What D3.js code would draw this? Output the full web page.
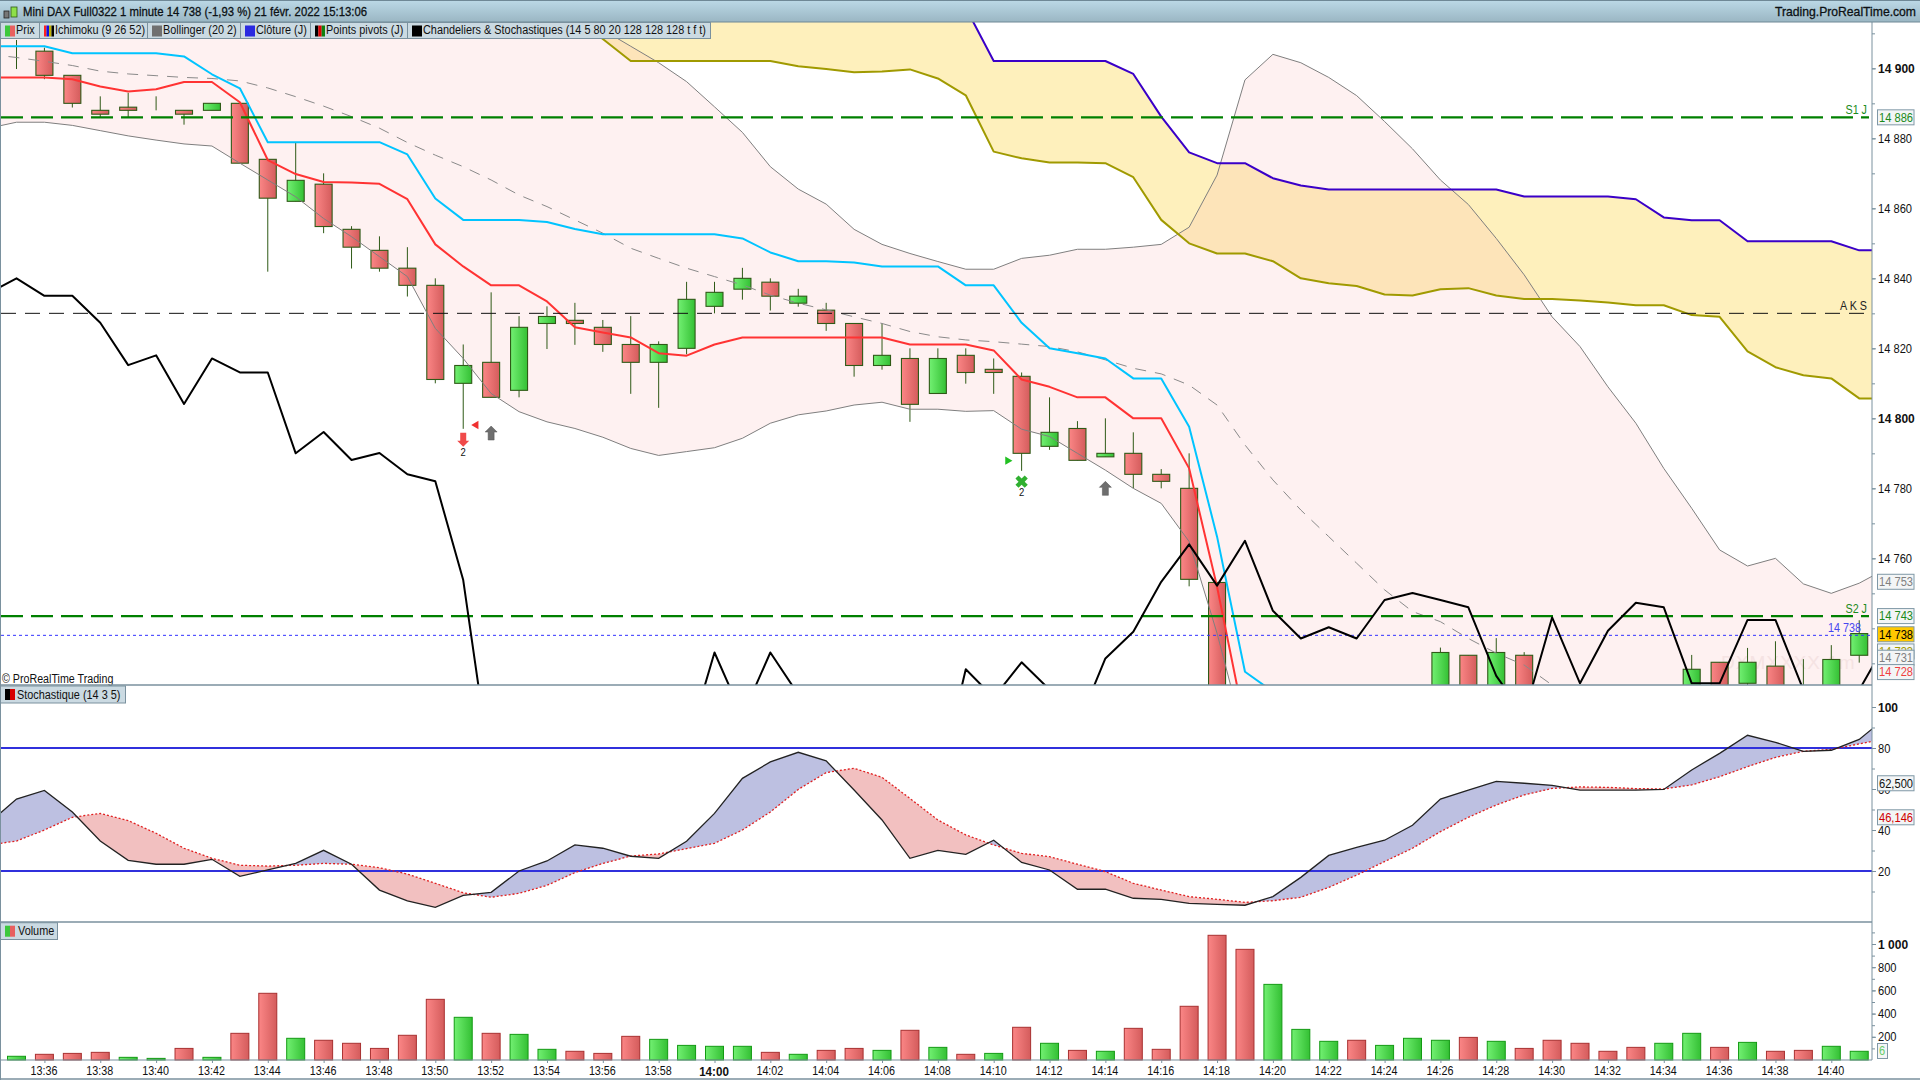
<!DOCTYPE html>
<html>
<head>
<meta charset="utf-8">
<script src="https://cdnjs.cloudflare.com/ajax/libs/d3/7.8.5/d3.min.js"></script>
<style>
  html, body { margin: 0; padding: 0; background: #fff; overflow: hidden; }
  text { font-family: "Liberation Sans", Arial, sans-serif; }
</style>
</head>
<body>
<svg id="chart" width="1920" height="1080"></svg>
<script>
// one candle per minute, 13:35 to 14:41
const times = d3.range(67).map(i => {
  const m = 13 * 60 + 35 + i;
  return d3.format('02')(Math.floor(m / 60)) + ':' + d3.format('02')(m % 60);
});

const opens = [14902.9,14904.9,14898,14888,14888.9,14888,14888,14888,14890,14874,14862,14866.9,14854,14848,14842.9,14838,14810,14816,14808,14827.1,14828,14826,14821.1,14816,14820,14832,
  14836.9,14838.9,14832.9,14830.9,14827.1,14815.1,14817.1,14807.1,14818,14814,14812,14792,14797.1,14789,14790,14784,14780,14753.1,
  14712,14692,14706,14712,14716,14712,14716,14719,14732.3,14720,14732.3,14720,14716,14713,14711,14709,14722.5,14730.3,14724.3,14729.2,14723,14722,14732.3];
const closes = [14902.9,14898,14890,14886.9,14888,14888,14886.9,14890,14872.9,14862.9,14868,14854.8,14848.9,14842.9,14838,14811.1,14815.1,14806,14826,14829.1,14827.1,14821.1,14816,14821.1,14834,14836,
  14840,14834.9,14834.9,14827.1,14815.1,14818,14804,14817.1,14813.1,14813.1,14790,14796,14788,14790,14784,14782,14754,14712,
  14692,14706,14712,14716,14712,14716,14719,14733.1,14720,14733.1,14720,14716,14713,14711,14709,14718,14728.3,14722,14730.3,14722,14721,14731.1,14738.5];
const highs = [14908.1,14905.9,14898,14892,14893,14892,14888,14890,14890,14874,14878.8,14870,14854.9,14852,14848.9,14840,14821.1,14836,14829.2,14832,14833,14828.1,14829.2,14822,14839,14839,
  14843,14840,14837,14833,14827.1,14827.1,14820,14820,14820,14817.1,14813.1,14806,14799.2,14800,14796,14785.5,14790,14753.1,
  14716,14708,14714,14718,14718,14718,14721,14734.5,14732.3,14737.2,14733.2,14722,14718,14715,14713,14720,14732.4,14730.3,14734.4,14736.3,14731.2,14735.2,14742.3];
const lows = [14899.8,14896.9,14888.8,14886,14886,14888,14883.9,14888,14872.9,14841.9,14862,14852.9,14842.8,14841.9,14834.8,14810,14797,14806,14806,14819.8,14821,14819,14807,14803,14818.3,14830,
  14833.9,14830.8,14831.9,14825,14811.9,14813.9,14799,14807.1,14809.9,14807,14785,14791,14788,14789,14780,14780,14752,14710,
  14688,14690,14704,14710,14710,14710,14714,14717,14718,14718,14718,14714,14710,14708,14707,14707,14722,14720,14723.8,14720,14719,14720,14730.2];

const volumes = [32,49,57,66,23,14,100,23,230,575,187,170,144,100,213,523,368,230,221,92,75,57,204,178,126,118,118,66,49,83,100,83,256,109,
  49,57,282,144,83,75,273,92,463,1075,954,652,264,161,170,126,187,170,195,161,100,170,144,75,109,144,230,109,152,75,83,118,75];
const volUp = [1,0,0,0,1,1,0,1,0,0,1,0,0,0,0,0,1,0,1,1,0,0,0,1,1,1,1,0,1,0,0,1,0,1,
  0,1,0,1,0,1,0,0,0,0,0,1,1,1,0,1,1,1,0,1,0,0,0,0,0,1,1,0,1,0,0,1,1];

// indicator series start one minute before the first candle (13:34) and run to 14:42
const kijun = [14906.3,14906.3,14906.3,14904.3,14904.3,14904.3,14904.3,14903.4,14898.3,14894.3,14878.9,14878.9,14878.9,14878.9,14878.9,14875.4,14862.8,14856.7,14856.7,14856.7,14856.1,14854.1,
  14852.6,14852.6,14852.6,14852.6,14852.6,14851.4,14847.4,14844.9,14844.9,14844.5,14843.4,14843.4,14843.4,14838,14838,14827.3,14820,14818.6,14817.1,14811.4,14811.4,14797.6,14766.2,14727.6,14721.9];
const tenkan = [14897.4,14897.4,14897.4,14896.9,14894.8,14893.4,14894,14896.1,14896.1,14890.3,14873.8,14869.8,14867.5,14867.4,14867,14862.6,14849.7,14843.4,14838,14838,14833.4,14826,14824.5,14823.1,14818.6,14817.9,14821.1,
  14823.1,14823.1,14823.1,14823.1,14823.1,14823.1,14821.1,14821.1,14821.1,14819.4,14811.1,14809,14806,14806,14800,14800,14785.7,14751.9,14712.4];
const bbUpper = [14925,14925,14926,14926,14927,14927,14927,14926,14926,14925,14925,14926,14926,14927,14926,14925,14925,14924,14922,14920,14918,14915,14911,14906.3,14901.6,14896.2,14889,
  14881.7,14871.9,14865.5,14861.2,14854,14849.7,14847.1,14844.8,14842.6,14842.6,14845.7,14846.6,14848.3,14848.3,14848.9,14849.7,14854.6,14869.5,14896.7,14904,14901.6,14897.4,14892.2,14884.8,14877,14868.1,14861.1,14851.4,14841,14829,14820.5,14809,14798.6,14785.7,14774.3,14762.4,14757.8,14760,14752.7,14750,14752.9,14757.2];
const bbMid = [14904,14903.1,14902,14900.8,14899.2,14898.4,14897.9,14897.4,14897.1,14896.4,14894.4,14891.9,14889.2,14886.2,14882.9,14878.8,14875.2,14871.9,14868.1,14863.8,14860.5,14856.7,14852.9,14848.6,14845.7,14842.9,14840.5,
  14838.1,14835.2,14832.9,14831,14829,14827.1,14824.8,14823.3,14822.4,14821.9,14821.2,14820.5,14819,14816.7,14814.3,14812.7,14809.5,14803.8,14792.4,14782.4,14773.8,14766.2,14758.6,14751,14744.8,14741.9,14737.1,14732.9,14729.5,14723.8,14721,14719];
const bbLower = [14882.9,14884.6,14884.6,14883.7,14882.2,14880.7,14879.5,14878.4,14877.8,14872.9,14868.1,14863.3,14857.1,14851.9,14846.2,14840.5,14825.7,14817.1,14807.1,14801.9,14799,14797.1,14794.6,14791.4,14789.4,14790.5,14791.6,
  14794.3,14798.6,14801,14802.1,14803.8,14804.6,14802.6,14802.6,14802,14802.2,14796.9,14794.8,14790,14785.2,14780,14775.7,14764.8,14738.6,14708,14700,14695,14690,14688,14686,14684,14684,14684,14684,14684,14684,14684,14684,14684,14684,14684,14684,14684,14684,14684,14684,14684,14684];
const senkouA = [null,null,null,null,null,null,null,null,null,null,null,null,null,null,null,null,null,null,null,null,null,14914.3,14908.4,
  14902.1,14902.1,14902.1,14902.1,14902.1,14902.1,14900.6,14899.8,14898.9,14899.1,14899.7,14897.1,14892.3,14876.2,14874.3,14873.1,14873.1,14872.9,14868.9,14856.7,14850,14847.1,14847.1,14844.9,14840,14838.6,14837.8,14835.4,14835.1,14836.9,14837.2,14835.1,14834.1,14834.1,14833.7,14833.1,14832.3,14832.3,14829.5,14829,14819.1,14814.6,14812.3,14811.4,14805.7,14805.7];
const senkouB = [null,null,null,null,null,null,null,null,null,null,null,null,null,null,null,null,null,null,null,null,null,14925,14925,14925,14925,14925,14925,14925,14925,14925,14925,14925,14925,14925,14925,14917.3,
  14902.1,14902.1,14902.1,14902.1,14902.1,14898.4,14886.2,14876,14872.9,14872.9,14868.6,14866.5,14865.4,14865.4,14865.4,14865.4,14865.4,14865.4,14865.4,14863.4,14863.4,14863.4,14863.4,14862.6,14857.4,14856.6,14856.6,14850.6,14850.6,14850.6,14850.6,14848,14848];
const blackLine = [14835.7,14840,14835,14835,14827.3,14815.2,14818,14804.1,14817.1,14813.1,14813.1,14790,14796.1,14788.1,14790.1,14784,14782,14753.8,14698.3,14690,14685,14680,14685,14690,14695,14706,14733.1,14715,14733.1,14721.1,14712,14705,14700,14700,14694.5,14728.3,14720.2,14730.3,14722.5,14712.1,14731.4,14739,14753.3,14764,14752.2,14765,14745,14737.1,14740.3,14737.1,14748.1,14750.1,14748.1,14746,14726.4,14715.2,14743.1,14724.3,14739.3,14747.3,14746,14724.3,14724.3,14742.4,14742.4,14722.4,14700.5,14722.4,14736.4];

const stochK = [43.3,55.1,59.3,48.8,34.6,25.2,23.3,23.3,25.7,17.4,20.5,23.7,30.1,23.3,10.7,5.4,2.3,8.1,9.6,20,24.9,32.7,31.1,27.2,26.2,34.5,48.1,65.2,73.2,77.9,73.7,59.5,44.9,26.2,30.1,28.1,35,24.2,20.5,11.1,11.1,6.7,6.2,4.2,3.7,3.3,7.5,16.9,27.6,31.5,35,42.3,55.1,59.5,63.7,62.8,61.8,59.5,59.5,59.5,59.8,69.3,77.4,86.2,82.8,78.4,78.9,84.2,95.3];
const stochD = [32.7,34.6,40,46.2,48.1,44.6,38.4,31.1,26.2,22.8,22.4,22.8,23.7,23.3,21.6,18.5,14,9.4,7.2,9.1,13,19.2,23.7,27.3,28.3,30.9,33.5,40,48.8,59.8,68,70.1,65.7,55.4,44.9,37.6,32.7,28.6,27,23.3,19.7,14,10.7,7.5,6.2,4.7,5.5,7.2,12,18,24.6,31.1,39.2,46.2,52.2,57.1,60.3,61,60.8,60.2,60,62,66,70.9,75.4,78.4,79.3,82,84.7];

// horizontal levels of the price panel
const levelNames = ['S1 J', 'A K S', 'S2 J'];
const levelValues = [14886, 14830, 14743.5];
const lastPrice = 14738;

// boxes on the price axis: text, price where the box sits, colour
const priceBoxes = ['14 886', '14 753', '14 743', '14 733', '14 731', '14 728', '14 738'];
const priceBoxAt = [14886, 14753.3, 14743.5, 14733.4, 14731.6, 14727.5, 14738.3];
const priceBoxColor = ['#1a8a1a', '#808080', '#1a8a1a', '#a09a00', '#808080', '#f04040', '#000'];

// signals on the candles
const markerIdx = [16, 17, 36, 39, 16.46, 35.5];
const markerPrice = [14793.9, 14795.8, 14781.9, 14780, 14798.1, 14787.9];
const markerType = ['down', 'up', 'cross', 'up', 'left', 'right'];

// legend tabs
const priceTabs = ['Prix', 'Ichimoku (9 26 52)', 'Bollinger (20 2)', 'Clôture (J)', 'Points pivots (J)', 'Chandeliers & Stochastiques (14 5 80 20 128 128 128 t f t)'];
const priceTabSwatch = [['#3cc83c', '#e86060'], ['#ff2020', '#1010e0', '#c0b000', '#000000'], ['#707070'], ['#2a2ae0'], ['#000000', '#e00000', '#108010'], ['#000000']];
const priceTabEdges = [0, 39, 147, 240, 310, 407, 710];

const W = 1920, axisX = 1872;
const priceTop = 22, priceBottom = 685, stochBottom = 922, volBottom = 1060;
const frame = '#7a919e';

const x = d3.scaleLinear().domain([0, 66]).range([16.5, 16.5 + 27.92 * 66]);
const lx = i => x(i - 1); // indicator arrays start at index -1
const y = d3.scaleLinear().domain([14900, 14800]).range([68.33, 418.33]);
const yStoch = d3.scaleLinear().domain([20, 80]).range([871, 748]);
const yVol = d3.scaleLinear().domain([0, 1000]).range([volBottom, 944]);

const svg = d3.select('#chart');
const defs = svg.append('defs');

function hGrad(id, a, b) {
  const g = defs.append('linearGradient').attr('id', id);
  g.append('stop').attr('offset', '0%').attr('stop-color', a);
  g.append('stop').attr('offset', '100%').attr('stop-color', b);
}
hGrad('red', '#fb8686', '#d45c5c');
hGrad('green', '#72f072', '#34c034');
const head = defs.append('linearGradient').attr('id', 'head').attr('x2', 0).attr('y2', 1);
head.append('stop').attr('offset', '0%').attr('stop-color', '#bcd9e7');
head.append('stop').attr('offset', '100%').attr('stop-color', '#9ab6c3');

function clip(id, top, bottom) {
  defs.append('clipPath').attr('id', id).append('rect').attr('x', 0).attr('y', top).attr('width', axisX).attr('height', bottom - top);
}
clip('clipPrice', priceTop, priceBottom);
clip('clipStoch', priceBottom, stochBottom);

// the reference text is narrow, so squeeze it a bit
function squeeze(sel, k) {
  sel.each(function() {
    const len = this.getComputedTextLength();
    if (len > 0) d3.select(this).attr('textLength', len * (k || 0.86)).attr('lengthAdjust', 'spacingAndGlyphs');
  });
}

function label(g, txt, px, py, size, color, anchor, weight, k) {
  return g.append('text').attr('x', px).attr('y', py).attr('font-size', size).attr('fill', color)
    .attr('text-anchor', anchor || 'start').attr('font-weight', weight || 'normal').text(txt).call(squeeze, k);
}

// ---------- price panel ----------
const price = svg.append('g').attr('clip-path', 'url(#clipPrice)');

const cloud = d3.area().defined(d => d[0] != null && d[1] != null)
  .x((d, i) => lx(i)).y0(d => y(d[0])).y1(d => y(d[1]));
price.append('path').datum(senkouA.map((a, i) => [a, senkouB[i]]))
  .attr('fill', '#fef0bc').attr('d', cloud);

const band = d3.area().x((d, i) => lx(i)).y0(d => y(d[0])).y1(d => y(d[1]));
price.append('path').datum(bbUpper.map((u, i) => [u, bbLower[i]]))
  .attr('fill', 'rgb(250,172,172)').attr('fill-opacity', 0.17).attr('d', band);

price.append('text').attr('x', 1721).attr('y', 669).attr('font-size', 19).attr('fill', '#f5e3e3')
  .attr('letter-spacing', 1).text('DXMXXXX 1m');

// candles
const candles = price.append('g').selectAll('g').data(times).enter().append('g');
candles.append('line')
  .attr('x1', (d, i) => x(i)).attr('x2', (d, i) => x(i))
  .attr('y1', (d, i) => y(highs[i])).attr('y2', (d, i) => y(lows[i]))
  .attr('stroke', '#2f5a17').attr('stroke-width', 1);
candles.append('rect')
  .attr('x', (d, i) => x(i) - 8.5).attr('width', 17)
  .attr('y', (d, i) => y(Math.max(opens[i], closes[i])))
  .attr('height', (d, i) => Math.abs(y(opens[i]) - y(closes[i])))
  .attr('fill', (d, i) => closes[i] >= opens[i] ? 'url(#green)' : 'url(#red)')
  .attr('stroke', '#2f5a17').attr('stroke-width', 1.1);

const pLine = d3.line().defined(d => d != null).x((d, i) => lx(i)).y(d => y(d));
function drawLine(data, color, width, dash) {
  price.append('path').datum(data).attr('fill', 'none').attr('stroke', color)
    .attr('stroke-width', width).attr('stroke-dasharray', dash || null)
    .attr('stroke-linejoin', 'round').attr('d', pLine);
}
drawLine(bbUpper, '#7f7f7f', 1);
drawLine(bbLower, '#7f7f7f', 1);
drawLine(bbMid, '#8a8a8a', 1, '11,9');
drawLine(senkouA, '#a09a00', 2);
drawLine(senkouB, '#3a00c8', 2);
drawLine(kijun, '#00c4ff', 2);
drawLine(tenkan, '#ff3333', 2);

// daily levels
levelValues.forEach((v, i) => {
  const isS = levelNames[i][0] === 'S';
  price.append('line').attr('x1', 1).attr('x2', axisX - 3).attr('y1', y(v)).attr('y2', y(v))
    .attr('stroke', isS ? '#008000' : '#111').attr('stroke-width', isS ? 2.4 : 1)
    .attr('stroke-dasharray', isS ? '22,8' : '15,9');
  price.append('text').attr('x', 1867).attr('y', y(v) - 3).attr('font-size', 12.5).attr('text-anchor', 'end')
    .attr('fill', isS ? '#1a8a1a' : '#222').text(levelNames[i]).call(squeeze);
});
price.append('line').attr('x1', 1).attr('x2', axisX).attr('y1', y(lastPrice)).attr('y2', y(lastPrice))
  .attr('stroke', '#3333ff').attr('stroke-width', 1).attr('stroke-dasharray', '3,3');
label(price, '14 738', 1861, y(lastPrice) - 3, 12.5, '#4646f0', 'end');

drawLine(blackLine, '#000', 2);

// signals
const arrow = 'M0,-7L6,-1L3,-1L3,7L-3,7L-3,-1L-6,-1Z';
const tri = d3.symbol().type(d3.symbolTriangle).size(30);
const crossSym = d3.symbol().type(d3.symbolCross).size(95);
markerType.forEach((t, i) => {
  const mx = x(markerIdx[i]), my = y(markerPrice[i]);
  const g = price.append('g').attr('transform', `translate(${mx},${my})`);
  if (t === 'up') g.append('path').attr('d', arrow).attr('fill', '#6e6e6e').attr('stroke', '#555').attr('stroke-width', 0.5);
  if (t === 'down') {
    g.append('path').attr('d', arrow).attr('fill', '#f04a4a').attr('transform', 'rotate(180)');
    label(g, '2', 0, 16, 11, '#111', 'middle');
  }
  if (t === 'cross') {
    g.append('path').attr('d', crossSym()).attr('fill', '#30b030').attr('transform', 'rotate(45)');
    label(g, '2', 0, 14, 11, '#111', 'middle');
  }
  if (t === 'left') g.append('path').attr('d', tri()).attr('fill', '#f03030').attr('transform', 'rotate(-90)');
  if (t === 'right') g.append('path').attr('d', tri()).attr('fill', '#22c022').attr('transform', 'rotate(90)');
});

label(svg, '© ProRealTime Trading', 2, 683, 12, '#111', 'start', 'normal', 0.89);

// ---------- stochastic panel ----------
const stoch = svg.append('g').attr('clip-path', 'url(#clipStoch)');

// add the crossing points so both fills meet exactly on the lines
const crossed = [];
stochK.forEach((k, i) => {
  crossed.push({i: i, k: k, d: stochD[i]});
  if (i < stochK.length - 1) {
    const a = k - stochD[i], b = stochK[i + 1] - stochD[i + 1];
    if (a * b < 0) {
      const t = a / (a - b);
      crossed.push({i: i + t, k: k + t * (stochK[i + 1] - k), d: stochD[i] + t * (stochD[i + 1] - stochD[i])});
    }
  }
});
stoch.append('path').datum(crossed).attr('fill', '#bdc0e1')
  .attr('d', d3.area().x(d => lx(d.i)).y0(d => yStoch(d.d)).y1(d => yStoch(Math.max(d.k, d.d))));
stoch.append('path').datum(crossed).attr('fill', '#f2c0c0')
  .attr('d', d3.area().x(d => lx(d.i)).y0(d => yStoch(d.k)).y1(d => yStoch(Math.max(d.k, d.d))));

[80, 20].forEach(v => {
  stoch.append('line').attr('x1', 0).attr('x2', axisX).attr('y1', yStoch(v)).attr('y2', yStoch(v))
    .attr('stroke', '#3030dc').attr('stroke-width', 2);
});

const sLine = d3.line().x((d, i) => lx(i)).y(d => yStoch(d));
stoch.append('path').datum(stochD).attr('fill', 'none').attr('stroke', '#e02020')
  .attr('stroke-width', 1.3).attr('stroke-dasharray', '2,2').attr('d', sLine);
stoch.append('path').datum(stochK).attr('fill', 'none').attr('stroke', '#222')
  .attr('stroke-width', 1.3).attr('d', sLine);

// ---------- volume panel ----------
const vol = svg.append('g');
vol.selectAll('rect').data(volumes).enter().append('rect')
  .attr('x', (d, i) => x(i) - 9).attr('width', 18)
  .attr('y', d => yVol(d)).attr('height', d => yVol(0) - yVol(d))
  .attr('fill', (d, i) => volUp[i] ? 'url(#green)' : 'url(#red)')
  .attr('stroke', (d, i) => volUp[i] ? '#139a13' : '#a83030').attr('stroke-width', 1);

// ---------- axes ----------
const fmt = d3.formatLocale({decimal: ',', thousands: ' ', grouping: [3], currency: ['', '']}).format(',');

function rightAxis(scale, minor, major, top, bottom, boldAt) {
  const g = svg.append('g').attr('transform', `translate(${axisX},0)`);
  g.append('g').call(d3.axisRight(scale).tickValues(minor).tickSize(3).tickFormat(''))
    .call(a => a.select('.domain').remove()).selectAll('line').attr('stroke', frame);
  const m = g.append('g').attr('font-size', 12.5).call(d3.axisRight(scale).tickValues(major).tickSize(4).tickPadding(2).tickFormat(fmt));
  m.select('.domain').remove();
  m.attr('font-family', null);
  m.selectAll('line').attr('stroke', frame);
  m.selectAll('text').attr('fill', '#111')
    .attr('font-weight', d => boldAt(d) ? 'bold' : 'normal')
    .attr('font-size', d => boldAt(d) ? 13.5 : 12.5).call(squeeze, 0.89);
  g.append('line').attr('y1', top).attr('y2', bottom).attr('stroke', frame).attr('stroke-width', 1);
}
rightAxis(y, d3.range(14730, 14920, 10), d3.range(14760, 14920, 20), priceTop, priceBottom, d => d % 100 === 0);
rightAxis(yStoch, d3.range(10, 100, 10), [20, 40, 60, 80, 100], priceBottom, stochBottom, d => d === 100);
rightAxis(yVol, d3.range(100, 1200, 100), [200, 400, 600, 800, 1000], stochBottom, volBottom, d => d === 1000);

const xAxis = svg.append('g').attr('transform', `translate(0,${volBottom})`)
  .attr('font-size', 12.5)
  .call(d3.axisBottom(x).tickValues(d3.range(1, 67, 2)).tickSize(3).tickPadding(3).tickFormat(i => times[i]));
xAxis.attr('font-family', null);
xAxis.select('.domain').attr('d', `M0,0H${axisX}`).attr('stroke', frame).attr('stroke-width', 1.2);
xAxis.selectAll('line').attr('stroke', frame);
xAxis.selectAll('text').attr('fill', '#111').attr('dx', -1)
  .attr('font-weight', i => times[i] === '14:00' ? 'bold' : 'normal')
  .attr('font-size', i => times[i] === '14:00' ? 13.5 : 12.5).call(squeeze);

// ---------- frame, title bar, tabs ----------
[priceBottom, stochBottom].forEach(v => {
  svg.append('line').attr('x1', 0).attr('x2', axisX).attr('y1', v).attr('y2', v).attr('stroke', frame).attr('stroke-width', 1.4);
});
svg.append('line').attr('x1', 0.5).attr('x2', 0.5).attr('y1', 0).attr('y2', 1080).attr('stroke', frame);
svg.append('line').attr('x1', 0).attr('x2', W).attr('y1', 1079).attr('y2', 1079).attr('stroke', frame).attr('stroke-width', 1.5);

svg.append('rect').attr('width', W).attr('height', 22).attr('fill', 'url(#head)');
svg.append('line').attr('x1', 0).attr('x2', W).attr('y1', 0.5).attr('y2', 0.5).attr('stroke', '#6f8896');
svg.append('line').attr('x1', 0).attr('x2', W).attr('y1', 22).attr('y2', 22).attr('stroke', '#6f8896');
svg.append('rect').attr('x', 4).attr('y', 11).attr('width', 5).attr('height', 7).attr('fill', '#777').attr('stroke', '#222').attr('stroke-width', 0.8);
svg.append('rect').attr('x', 11).attr('y', 7).attr('width', 6).attr('height', 10).attr('fill', '#8ee04a').attr('stroke', '#2f5a17').attr('stroke-width', 0.8);
label(svg, 'Mini DAX Full0322 1 minute 14 738 (-1,93 %) 21 févr. 2022 15:13:06', 23, 16, 13, '#0c1114', 'start', 'normal', 0.872)
  .attr('stroke', '#0c1114').attr('stroke-width', 0.3);
label(svg, 'Trading.ProRealTime.com', 1775, 16, 12.4, '#0c1114').attr('textLength', 141)
  .attr('stroke', '#0c1114').attr('stroke-width', 0.3);

function tab(g, name, colors, x0, x1, top, bottom, textX, k) {
  g.append('rect').attr('x', x0 + 0.5).attr('y', top).attr('width', x1 - x0).attr('height', bottom - top)
    .attr('fill', '#cbdae2').attr('stroke', frame).attr('stroke-width', 1);
  const sw = 10 / colors.length;
  colors.forEach((c, i) => {
    g.append('rect').attr('x', x0 + 5 + i * sw).attr('y', top + 3).attr('width', sw).attr('height', 11).attr('fill', c);
  });
  label(g, name, textX, bottom - 4.5, 12.5, '#111', 'start', 'normal', k);
}
priceTabs.forEach((t, i) => {
  tab(svg, t, priceTabSwatch[i], priceTabEdges[i], priceTabEdges[i + 1], 22.5, 38.5, priceTabEdges[i] + 16, 0.87);
});
tab(svg, 'Stochastique (14 3 5)', ['#000000', '#d80000'], 0, 125, 686, 703, 17, 0.87);
tab(svg, 'Volume', ['#3cc83c', '#e86060'], 0, 57, 922.7, 939.5, 18, 0.87);

// ---------- value boxes on the axes ----------
function box(txt, cy, color, fill, weight, w) {
  svg.append('rect').attr('x', 1877.5).attr('y', cy - 7.5).attr('width', w || 36.5).attr('height', 15)
    .attr('fill', fill || '#f3f5f6').attr('stroke', '#7f98a6').attr('stroke-width', 1);
  label(svg, txt, 1879, cy + 4.3, 12.5, color, 'start', weight, 0.89);
}
priceBoxes.forEach((t, i) => {
  const last = i === priceBoxes.length - 1;
  box(t, y(priceBoxAt[i]), priceBoxColor[i], last ? '#ffc800' : null);
});
box('62,500', yStoch(62.8), '#111');
box('46,146', yStoch(46.2), '#d00000');
box('6', 1051, '#66cc66', null, 'normal', 10);
</script>
</body>
</html>
